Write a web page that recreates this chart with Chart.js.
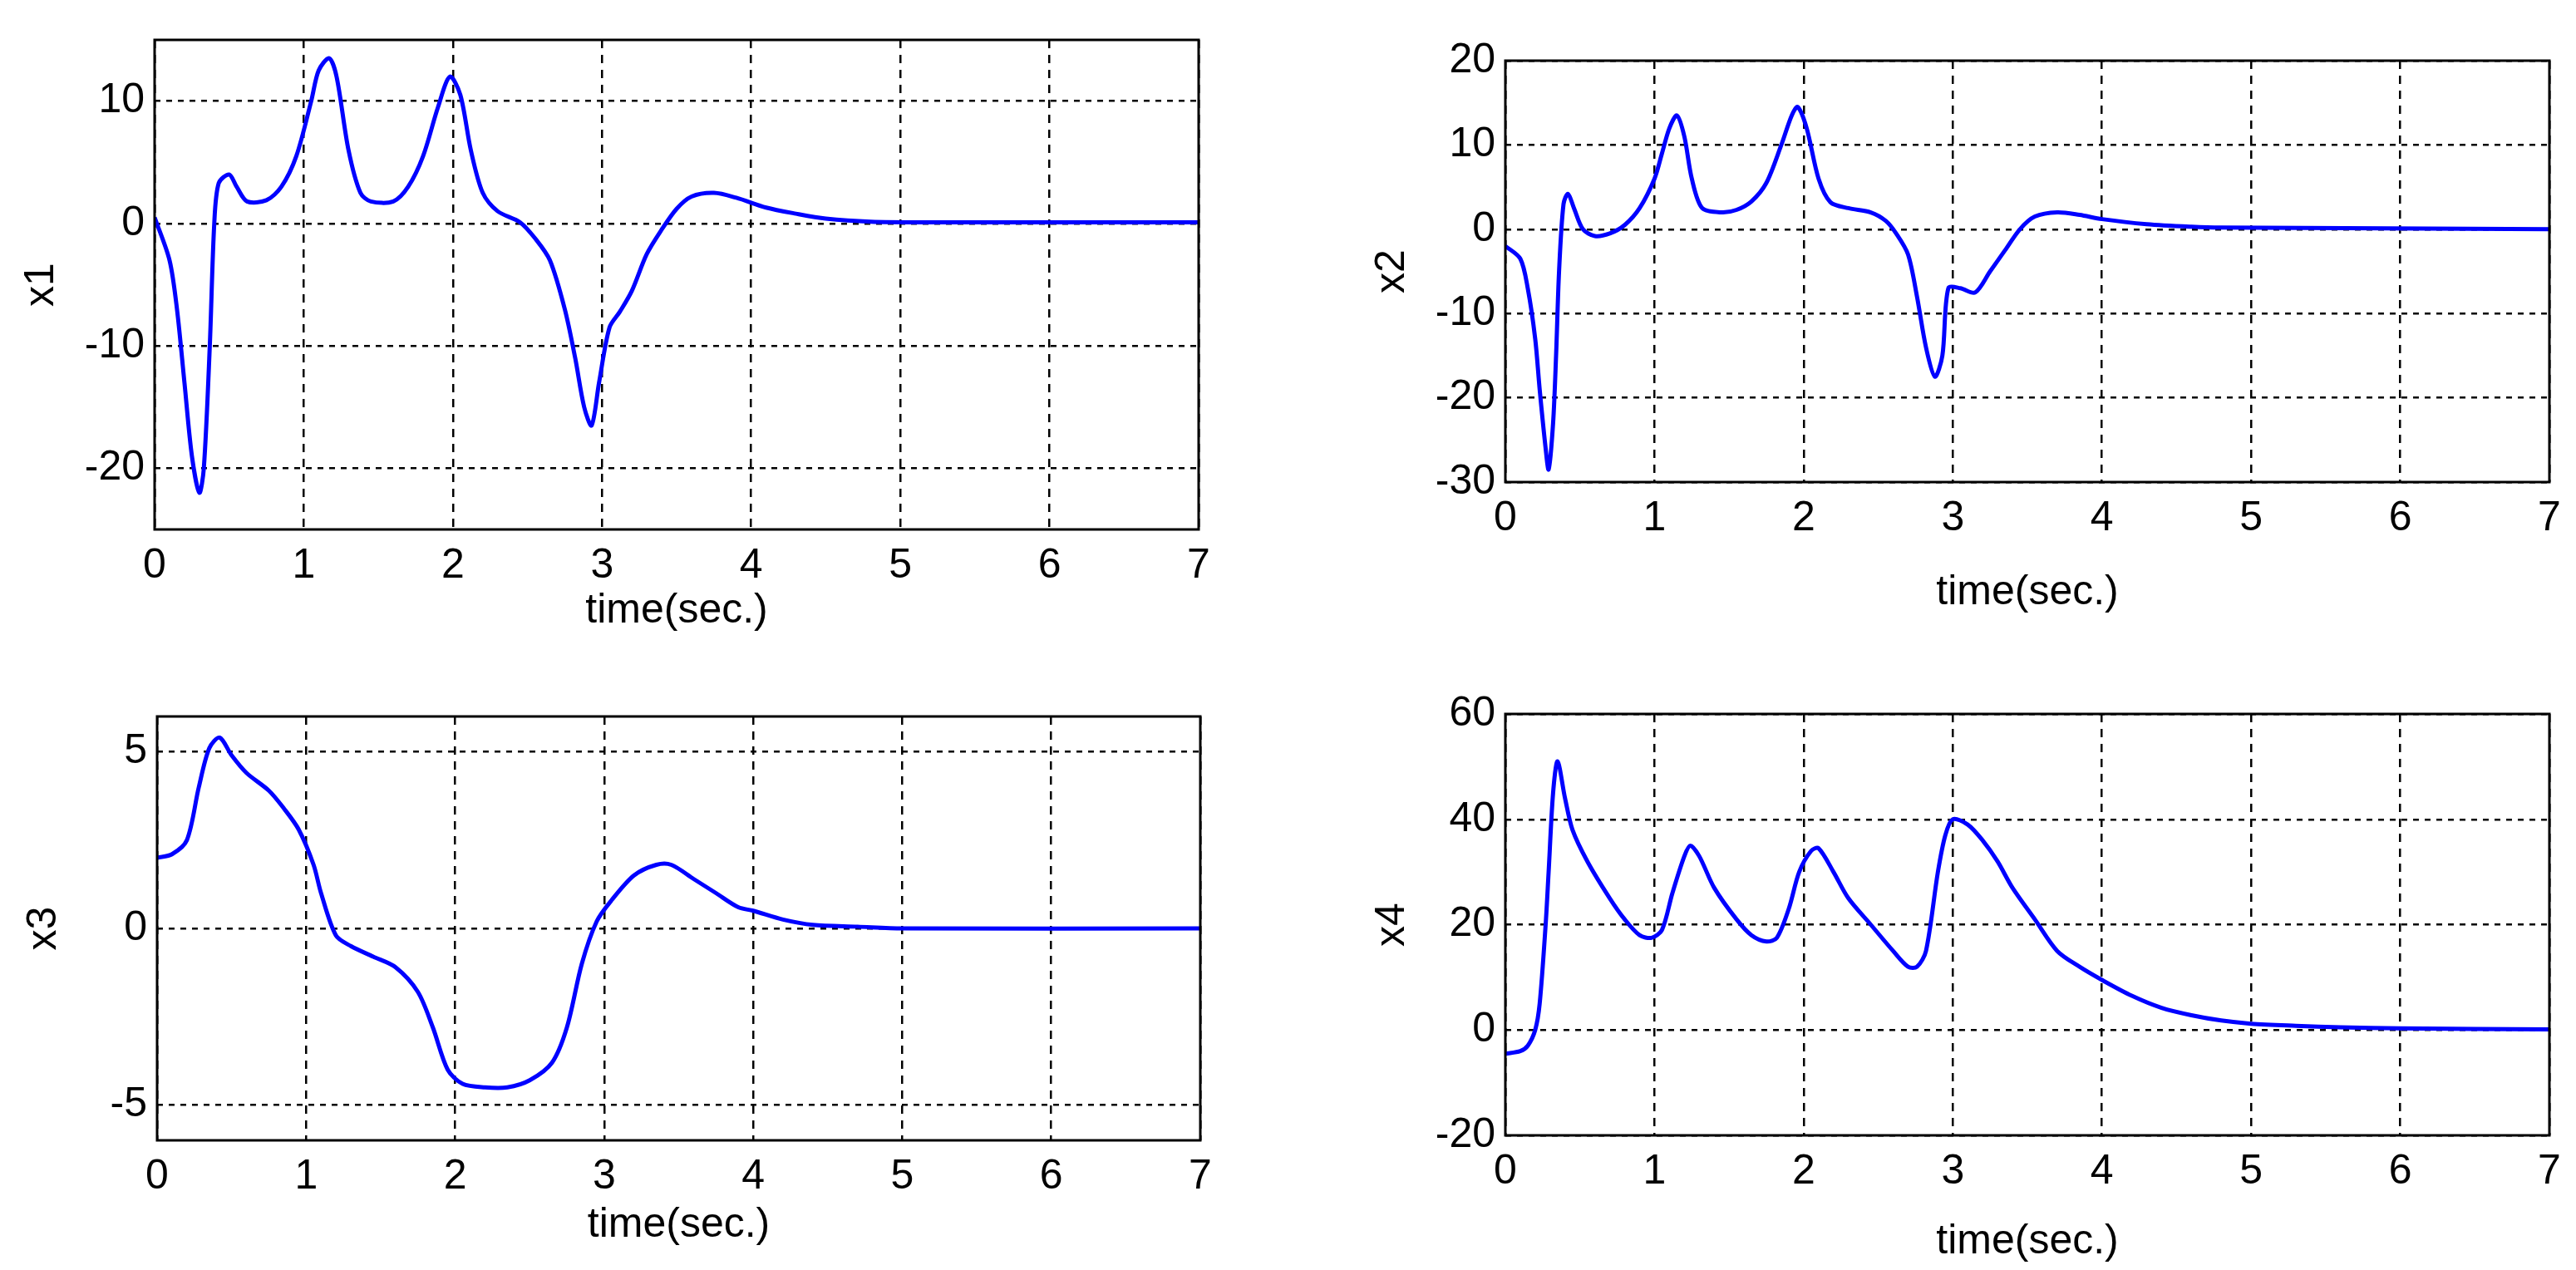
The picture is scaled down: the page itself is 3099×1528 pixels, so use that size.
<!DOCTYPE html>
<html><head><meta charset="utf-8">
<script src="https://cdn.jsdelivr.net/npm/chart.js@4"></script>
<style>body{margin:0;background:#fff;width:3099px;height:1528px;position:relative;overflow:hidden}canvas{position:absolute}</style>
</head><body>
<canvas id="c1"></canvas><canvas id="c2"></canvas><canvas id="c3"></canvas><canvas id="c4"></canvas>
<script>
const xTicks=[0,1,2,3,4,5,6,7];
const t1=[0,0.1,0.15,0.2,0.25,0.3,0.33,0.37,0.4,0.43,0.5,0.55,0.62,0.75,0.85,0.95,1.05,1.1,1.17,1.22,1.3,1.38,1.45,1.6,1.7,1.8,1.9,1.98,2.05,2.12,2.2,2.3,2.45,2.55,2.65,2.75,2.82,2.88,2.93,2.98,3.05,3.12,3.2,3.3,3.4,3.5,3.6,3.75,3.9,4.1,4.3,4.5,4.8,5.2,7];
const x1=[0.5,-3,-7,-13,-19,-22,-20,-10,0,3.3,4,3,1.8,1.9,3,5.5,10,12.5,13.5,12,6,2.5,1.8,1.8,3,5.5,9.5,12,10.5,6,2.5,1,0.1,-1.2,-3,-7,-11,-15,-16.5,-13,-8.5,-7.2,-5.5,-2.5,-0.5,1.2,2.2,2.5,2.1,1.3,0.8,0.4,0.15,0.1,0.1];
const t2=[0,0.1,0.15,0.2,0.23,0.27,0.29,0.32,0.34,0.36,0.39,0.42,0.46,0.52,0.6,0.7,0.8,0.9,1.0,1.05,1.1,1.15,1.2,1.25,1.32,1.45,1.55,1.65,1.75,1.85,1.92,1.96,2.02,2.1,2.18,2.3,2.45,2.55,2.62,2.7,2.76,2.82,2.88,2.93,2.97,3.05,3.15,3.25,3.35,3.45,3.55,3.7,3.85,4.0,4.3,4.6,4.8,7];
const x2=[-2,-3.5,-7,-13,-19,-26,-28.5,-23,-15,-5,3,4.2,2.5,0,-0.8,-0.5,0.5,2.5,6,9,12,13.5,11,6,2.5,2,2.3,3.3,5.5,10,13.5,14.5,12,6,3.2,2.5,2,1,-0.5,-3,-8,-14,-17.5,-15,-7,-7,-7.5,-5,-2.5,0,1.5,2,1.7,1.2,0.6,0.3,0.2,0];
const t3=[0,0.1,0.2,0.28,0.35,0.42,0.5,0.6,0.75,0.85,0.95,1.05,1.1,1.2,1.3,1.45,1.6,1.75,1.85,1.95,2.05,2.2,2.35,2.5,2.65,2.75,2.85,2.95,3.05,3.2,3.35,3.45,3.6,3.75,3.9,4.0,4.2,4.4,4.7,5,7];
const x3=[2,2.1,2.5,4,5.1,5.4,4.9,4.4,3.9,3.4,2.8,1.8,1,-0.2,-0.5,-0.8,-1.1,-1.8,-2.8,-4,-4.4,-4.5,-4.5,-4.3,-3.8,-2.8,-1,0.2,0.8,1.5,1.8,1.8,1.4,1,0.6,0.5,0.25,0.1,0.05,0,0];
const t4=[0,0.1,0.15,0.2,0.23,0.27,0.29,0.32,0.35,0.4,0.45,0.55,0.7,0.8,0.9,0.98,1.05,1.12,1.2,1.24,1.3,1.4,1.55,1.65,1.75,1.82,1.9,1.97,2.05,2.1,2.2,2.3,2.45,2.6,2.7,2.76,2.82,2.9,2.95,3.0,3.1,3.2,3.3,3.4,3.55,3.7,3.85,4.0,4.2,4.4,4.6,4.8,5.0,5.3,5.6,6.0,7];
const x4=[-4.5,-4,-3,0,5,20,30,45,51,44,38,32,25,21,18,17.5,19,26,33,35,33,27,21,18,16.8,17.5,23,30,34,34.5,30,25,20,15,12,12,15,30,37,40,39,36,32,27,21,15,12,9.5,6.5,4.2,2.8,1.8,1.2,0.8,0.5,0.3,0.1];
const yTicks1=[-20,-10,0,10], yTicks2=[-30,-20,-10,0,10,20], yTicks3=[-5,0,5], yTicks4=[-20,0,20,40,60];

const FONT='"Liberation Sans", Arial, sans-serif';
const frame={id:'frame',afterDraw(c){const a=c.chartArea,g=c.ctx;g.save();g.strokeStyle='#000';g.lineWidth=3;g.setLineDash([]);g.strokeRect(a.left,a.top,a.right-a.left,a.bottom-a.top);g.restore();}};
const LM=170,TM=40,RM=40;
function make(id,box,ts,ys,label,ymin,ymax,yt,xlabOff){
  const cv=document.getElementById(id);
  const W=box[2]-box[0]+LM+RM, H=box[3]-box[1]+TM+xlabOff;
  cv.style.left=(box[0]-LM)+'px'; cv.style.top=(box[1]-TM)+'px';
  cv.style.width=W+'px'; cv.style.height=H+'px'; cv.width=W; cv.height=H;
  new Chart(cv,{type:'line',plugins:[frame],
    data:{datasets:[{data:ts.map((t,i)=>({x:t,y:ys[i]})),borderColor:'#0000ff',borderWidth:5,pointRadius:0,tension:0.3,fill:false}]},
    options:{responsive:false,animation:false,devicePixelRatio:1,layout:{padding:{top:TM,right:RM,left:0,bottom:0}},
      plugins:{legend:{display:false},tooltip:{enabled:false}},
      scales:{
        x:{type:'linear',min:0,max:7,afterBuildTicks(s){s.ticks=xTicks.map(v=>({value:v}));},afterFit(s){s.height=xlabOff;},
          grid:{color:'#000',lineWidth:2.5,drawTicks:false},border:{dash:[10,8],display:false},
          ticks:{color:'#000',font:{family:FONT,size:50},padding:14,maxRotation:0},
          title:{display:true,text:'time(sec.)',color:'#000',font:{family:FONT,size:50},padding:{top:0,bottom:0}}},
        y:{min:ymin,max:ymax,afterBuildTicks(s){s.ticks=yt.map(v=>({value:v}));},afterFit(s){s.width=LM;},
          grid:{color:'#000',lineWidth:2.5,drawTicks:false},border:{dash:[7,7],display:false},
          ticks:{color:'#000',font:{family:FONT,size:50},padding:12},
          title:{display:true,text:label,color:'#000',font:{family:FONT,size:50},padding:{top:4,bottom:0}}}
      }}});
}
make('c1',[186,46,1442,637],t1,x1,'x1',-25,15,yTicks1,128);
make('c2',[1811,71,3067,580],t2,x2,'x2',-30,20,yTicks2,163);
make('c3',[189,860,1444,1372],t3,x3,'x3',-6,6,yTicks3,132);
make('c4',[1811,857,3067,1366],t4,x4,'x4',-20,60,yTicks4,158);
</script></body></html>
